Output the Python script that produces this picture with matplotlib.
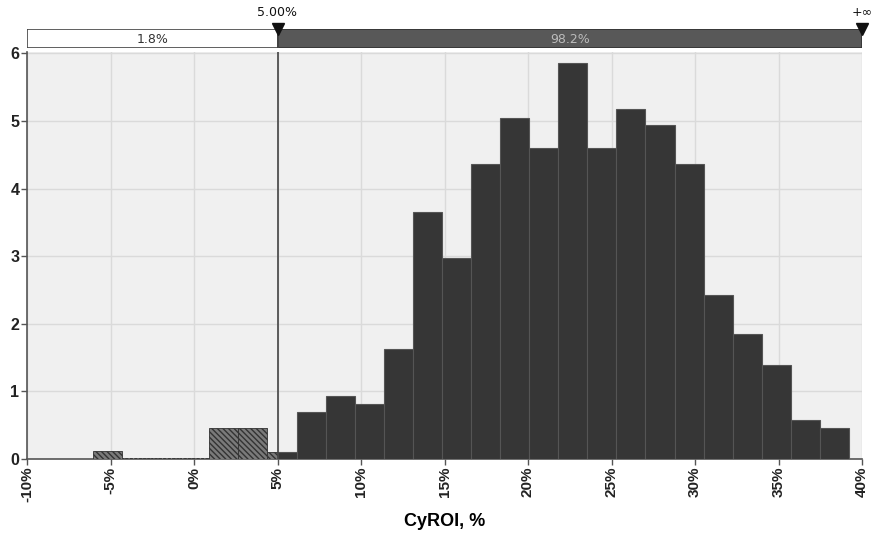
import numpy as np
import matplotlib
matplotlib.use("Agg")
import matplotlib.pyplot as plt

# histogram data (density, bin width ~1.74%)
bin_start = -6.05
bin_end = 39.22
heights = [0.12, 0.01, 0.01, 0.01, 0.46, 0.46, 0.10, 0.69, 0.93, 0.81,
           1.62, 3.66, 2.98, 4.36, 5.05, 4.60, 5.85, 4.60, 5.17, 4.94,
           4.36, 2.42, 1.85, 1.39, 0.58, 0.46]
cutoff = 5.0
pct_left = "1.8%"
pct_right = "98.2%"
x_ticks = [-10, -5, 0, 5, 10, 15, 20, 25, 30, 35, 40]
y_ticks = [0, 1, 2, 3, 4, 5, 6]
x_label = "CyROI, %"

plt.rcParams['font.family'] = ['Liberation Sans', 'DejaVu Sans']
plt.rcParams['hatch.linewidth'] = 1.0

W, H = 876, 538
fig = plt.figure(figsize=(W / 100, H / 100), dpi=100)

ax_l, ax_r, ax_b, ax_t = 27, 862, 459, 52
ax = fig.add_axes([ax_l / W, 1 - ax_b / H, (ax_r - ax_l) / W, (ax_b - ax_t) / H])
ax.set_facecolor('#f0f0f0')

edges = np.linspace(bin_start, bin_end, len(heights) + 1)
dark = '#363636'
hatch_face = '#7a7a7a'
hatch_edge = '#333333'
for i, h in enumerate(heights):
    x0, x1 = edges[i], edges[i + 1]
    if x1 <= cutoff:
        ls = '--' if h < 0.05 else '-'
        ax.bar(x0, h, width=x1 - x0, align='edge', color=hatch_face,
               edgecolor=hatch_edge, hatch='\\\\\\\\\\\\', linewidth=0.6, linestyle=ls, zorder=3)
    elif x0 < cutoff:
        ax.bar(x0, h, width=cutoff - x0, align='edge', color=hatch_face,
               edgecolor=hatch_edge, hatch='\\\\\\\\\\\\', linewidth=0.6, zorder=3)
        ax.bar(cutoff, h, width=x1 - cutoff, align='edge', color=dark,
               edgecolor='#555555', linewidth=0.8, zorder=3)
    else:
        ax.bar(x0, h, width=x1 - x0, align='edge', color=dark,
               edgecolor='#555555', linewidth=0.8, zorder=3)

ax.axvline(cutoff, color='#444444', lw=1.2, zorder=4)

ax.set_xlim(-10, 40)
ax.set_ylim(0, 6.02)
ax.set_xticks(x_ticks)
ax.set_xticklabels([f"{t}%" for t in x_ticks], rotation=90, fontsize=11,
                   fontweight='bold', color='#222222')
ax.set_yticks(y_ticks)
ax.set_yticklabels([str(t) for t in y_ticks], fontsize=11.5, fontweight='bold',
                   color='#222222')
ax.grid(True, color='#dadada', lw=1, zorder=0)
ax.set_axisbelow(True)
for s in ['top', 'right']:
    ax.spines[s].set_visible(False)
for s in ['left', 'bottom']:
    ax.spines[s].set_color('#555555')
    ax.spines[s].set_linewidth(1.2)
ax.tick_params(axis='both', length=4, width=1, color='#555555', pad=1.5)
ax.set_xlabel(x_label, fontsize=13, fontweight='bold', labelpad=8)

# probability band on top
band_t, band_b = 29, 48
bx = fig.add_axes([ax_l / W, 1 - band_b / H, (ax_r - ax_l) / W, (band_b - band_t) / H])
bx.set_xlim(-10, 40)
bx.set_ylim(0, 1)
bx.axis('off')
bx.barh(0.5, cutoff + 10, left=-10, height=1, color='white', edgecolor='#444444', lw=1.2)
bx.barh(0.5, 40 - cutoff, left=cutoff, height=1, color='#585858', edgecolor='#333333', lw=1.2)
bx.text((-10 + cutoff) / 2, 0.45, pct_left, ha='center', va='center', fontsize=9,
        color='#333333', family='DejaVu Sans')
bx.text((cutoff + 40) / 2, 0.45, pct_right, ha='center', va='center', fontsize=9,
        color='#bbbbbb', family='DejaVu Sans')
bx.axvline(cutoff, color='#444444', lw=1.2)
bx.plot([cutoff, 40], [1.0, 1.0], marker='v', ls='none', color='#111111',
        markersize=8, clip_on=False, zorder=5)
bx.text(cutoff, 1.55, "5.00%", ha='center', va='bottom', fontsize=9,
        color='#111111', family='DejaVu Sans')
bx.text(40, 1.55, "+∞", ha='center', va='bottom', fontsize=9,
        color='#111111', family='DejaVu Sans')

fig.savefig("out.png", dpi=100)
